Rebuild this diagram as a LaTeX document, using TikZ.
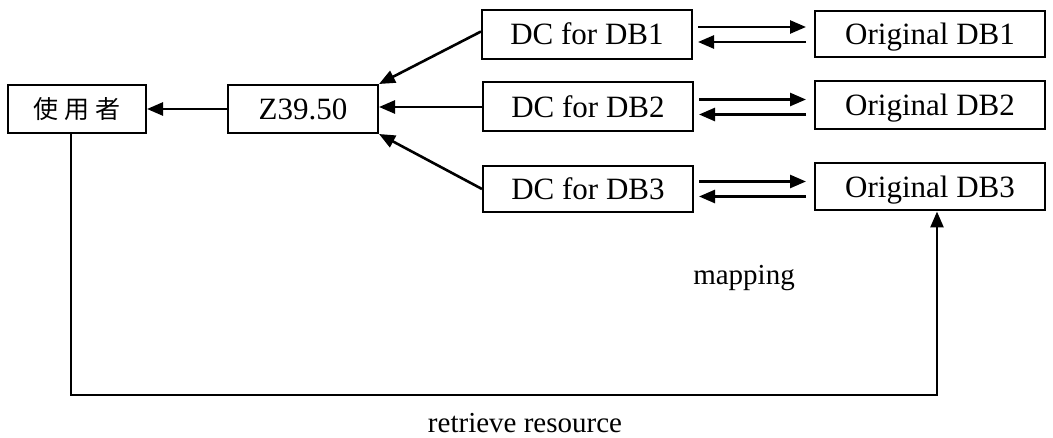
\documentclass[tikz,border=0pt]{standalone}
\usepackage{fontspec}
\setmainfont{Liberation Serif}
\newfontfamily\cjk{Noto Sans CJK TC}
\usetikzlibrary{arrows.meta,calc}
\begin{document}
\begin{tikzpicture}[x=1pt,y=-1pt,
  box/.style={draw,line width=2pt,inner sep=0pt,text height=20.5pt,text depth=0pt,font=\fontsize{31}{34}\selectfont},
  arr/.style={line width=2.6pt,-{Triangle[length=16pt,width=13pt]}},
  lab/.style={font=\fontsize{29}{32}\selectfont}]
\useasboundingbox (0,0) rectangle (1053,438);
\node[box,minimum width=138pt,minimum height=48pt,text height=19pt] (user) at (77,109) {\cjk\fontsize{25}{27}\selectfont 使\hspace{6pt}用\hspace{6pt}者};
\node[box,minimum width=150pt,minimum height=48pt] (z) at (303,109) {Z39.50};
\node[box,minimum width=210pt,minimum height=49pt] (dc1) at (587,34.5) {DC for DB1};
\node[box,minimum width=210pt,minimum height=49pt] (dc2) at (588,107) {DC for DB2};
\node[box,minimum width=210pt,minimum height=46pt] (dc3) at (588,189) {DC for DB3};
\node[box,minimum width=230pt,minimum height=46pt] (o1) at (930,34) {Original DB1};
\node[box,minimum width=230pt,minimum height=48pt] (o2) at (930,105) {Original DB2};
\node[box,minimum width=230pt,minimum height=47pt] (o3) at (930,187) {Original DB3};
\node[lab] (map) at (744,278) {mapping};
\node[lab] (ret) at (525,423) {retrieve resource};
\coordinate (loop) at (500,395);
% DC -> Z39.50
\draw[arr] ([yshift=3pt]dc1.west) -- (z.north east);
\draw[arr] (dc2.west) -- (dc2.west -| z.east);
\draw[arr] (dc3.west) -- (z.south east);
\draw[arr] (z.west) -- (user.east);
% mapping arrows
\foreach \d/\o in {dc1/o1,dc2/o2,dc3/o3}{
  \draw[arr] ($(\d.east)+(5,-7.5)$) -- ($(\d.east -| \o.west)+(-8,-7.5)$);
  \draw[arr] ($(\d.east -| \o.west)+(-8,7.5)$) -- ($(\d.east)+(5,7.5)$);
}
% retrieve loop
\draw[arr] ([xshift=-6pt]user.south) |- (loop) -| ([xshift=7pt]o3.south);
\end{tikzpicture}
\end{document}
